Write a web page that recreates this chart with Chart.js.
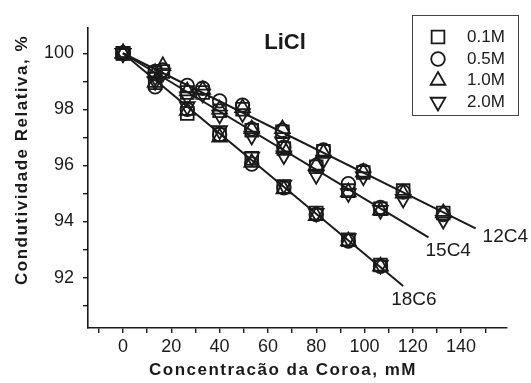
<!DOCTYPE html>
<html>
<head>
<meta charset="utf-8">
<script src="https://cdn.jsdelivr.net/npm/chart.js@4.4.1/dist/chart.umd.min.js"></script>
<style>
  html, body { margin: 0; padding: 0; background: #fff; }
</style>
</head>
<body>
<canvas id="chart" width="531" height="383"></canvas>
<script>
/* LiCl: relative conductivity vs crown ether concentration */
const saltLabels = ['0.1M', '0.5M', '1.0M', '2.0M'];
const crownNames = ['12C4', '15C4', '18C6'];

// crown concentration (mM) sampled for each ether
const x12C4 = [0, 16.5, 33, 49.5, 66, 83, 99.5, 116, 132.6];
const x15C4 = [0, 13.3, 26.6, 40, 53.3, 66.6, 80, 93.3, 106.6];
const x18C6 = [0, 13.3, 26.6, 40, 53.3, 66.6, 80, 93.3, 106.6];

// relative conductivity (%), one row per salt concentration
const y12C4 = [
  [100, 99.35, 98.6, 98.0, 97.2, 96.5, 95.75, 95.1, 94.3],
  [100, 99.4, 98.75, 98.15, 97.25, 96.55, 95.8, 95.05, 94.25],
  [100, 99.55, 98.7, 98.05, 97.3, 96.45, 95.75, 95.0, 94.3],
  [100, 99.3, 98.55, 97.85, 96.85, 96.2, 95.6, 94.8, 94.05]
];
const y15C4 = [
  [100, 99.3, 98.6, 97.95, 97.25, 96.6, 95.95, 95.1, 94.45],
  [100, 99.35, 98.85, 98.3, 97.3, 96.65, 96.0, 95.35, 94.5],
  [100, 99.3, 98.65, 98.0, 97.3, 96.6, 96.0, 95.05, 94.4],
  [100, 99.15, 98.45, 97.8, 97.05, 96.35, 95.65, 95.0, 94.4]
];
const y18C6 = [
  [100, 98.95, 97.85, 97.1, 96.25, 95.25, 94.3, 93.35, 92.45],
  [100, 98.8, 98.0, 97.1, 96.05, 95.2, 94.25, 93.3, 92.4],
  [100, 98.95, 97.95, 97.0, 96.1, 95.15, 94.2, 93.3, 92.4],
  [100, 99.0, 98.1, 97.25, 96.3, 95.3, 94.3, 93.4, 92.45]
];

// linear fits (end points)
const fitX = [[0, 146], [0, 126.5], [0, 116]];
const fitY = [[100, 93.75], [100, 93.43], [100, 91.7]];

// axis ticks
const xTicks = [-10, 0, 10, 20, 30, 40, 50, 60, 70, 80, 90, 100, 110, 120, 130, 140, 150];
const xTickLabels = [0, 20, 40, 60, 80, 100, 120, 140];
const yTicks = [91, 92, 93, 94, 95, 96, 97, 98, 99, 100];
const yTickLabels = [92, 94, 96, 98, 100];

const ink = '#1a1a1a';
const FONT = '"Liberation Sans", Arial, sans-serif';
const markers = [
  { style: 'rect', rot: 0, r: 9 },
  { style: 'circle', rot: 0, r: 6.8 },
  { style: 'triangle', rot: 0, r: 8.5 },
  { style: 'triangle', rot: 180, r: 8.5 }
];

const datasets = [];
[x12C4, x15C4, x18C6].forEach((xs, c) => {
  const rows = [y12C4, y15C4, y18C6][c];
  rows.forEach((ys, s) => {
    datasets.push({
      label: crownNames[c] + ' ' + saltLabels[s],
      data: xs.map((v, i) => ({ x: v, y: ys[i] })),
      showLine: false,
      pointStyle: markers[s].style,
      rotation: markers[s].rot,
      pointRadius: markers[s].r,
      pointBorderWidth: 1.8,
      borderColor: ink,
      backgroundColor: 'rgba(0,0,0,0)'
    });
  });
});
fitX.forEach((xs, i) => {
  datasets.push({
    label: crownNames[i],
    data: xs.map((v, k) => ({ x: v, y: fitY[i][k] })),
    showLine: true,
    borderColor: ink,
    borderWidth: 2,
    pointRadius: 0
  });
});

function drawMarker(ctx, m, cx, cy) {
  ctx.beginPath();
  if (m.style === 'rect') {
    const s = m.r * Math.SQRT1_2;
    ctx.rect(cx - s, cy - s, 2 * s, 2 * s);
  } else if (m.style === 'circle') {
    ctx.arc(cx, cy, m.r, 0, Math.PI * 2);
  } else {
    for (let k = 0; k < 3; k++) {
      const a = m.rot * Math.PI / 180 + k * 2 * Math.PI / 3;
      const px = cx + Math.sin(a) * m.r, py = cy - Math.cos(a) * m.r;
      if (k) ctx.lineTo(px, py); else ctx.moveTo(px, py);
    }
    ctx.closePath();
  }
  ctx.stroke();
}

const extras = {
  id: 'extras',
  afterDraw(chart) {
    const { ctx, scales: { x, y } } = chart;
    ctx.save();
    ctx.fillStyle = ink;
    ctx.strokeStyle = ink;

    ctx.font = 'bold 22px ' + FONT;
    ctx.textAlign = 'center';
    ctx.textBaseline = 'middle';
    ctx.fillText('LiCl', 285, 43);

    // fit labels next to the end of each line
    const offs = [[7, 8], [-3, 13], [-12, 14]];
    ctx.font = '19px ' + FONT;
    ctx.textAlign = 'left';
    crownNames.forEach((name, i) => {
      const n = fitX[i].length - 1;
      const px = x.getPixelForValue(fitX[i][n]);
      const py = y.getPixelForValue(fitY[i][n]);
      ctx.fillText(name, px + offs[i][0], py + offs[i][1]);
    });

    // axis titles
    ctx.font = 'bold 17px ' + FONT;
    ctx.letterSpacing = '1.5px';
    ctx.textAlign = 'center';
    ctx.fillText('Concentracão da Coroa, mM', 283, 370);
    ctx.save();
    ctx.translate(22, 160);
    ctx.rotate(-Math.PI / 2);
    ctx.fillText('Condutividade Relativa, %', 0, 0);
    ctx.restore();
    ctx.letterSpacing = '0px';

    // legend
    ctx.lineWidth = 1;
    ctx.strokeStyle = '#444';
    ctx.strokeRect(412.5, 15.5, 106, 100);
    ctx.strokeStyle = ink;
    ctx.lineWidth = 1.8;
    ctx.font = '17px ' + FONT;
    ctx.textAlign = 'left';
    const rows = [37, 59, 80.5, 102];
    saltLabels.forEach((lab, s) => {
      drawMarker(ctx, markers[s], 438, rows[s]);
      ctx.fillText(lab, 467, rows[s]);
    });
    ctx.restore();
  }
};

new Chart(document.getElementById('chart'), {
  type: 'scatter',
  data: { datasets },
  plugins: [extras],
  options: {
    responsive: false,
    animation: false,
    devicePixelRatio: 1,
    layout: { padding: { left: 0, right: 24, top: 28, bottom: 0 } },
    plugins: { legend: { display: false }, tooltip: { enabled: false } },
    scales: {
      x: {
        type: 'linear', min: -14.5, max: 159,
        afterBuildTicks: s => { s.ticks = xTicks.map(v => ({ value: v })); },
        afterFit: s => { s.height = 55; },
        border: { display: true, color: ink, width: 1.6 },
        grid: { drawOnChartArea: false, drawTicks: true, tickLength: 5, color: ink, lineWidth: 1.4 },
        ticks: {
          autoSkip: false, maxRotation: 0, padding: 3, color: ink,
          font: { family: FONT, size: 18 },
          callback: v => xTickLabels.includes(v) ? String(v) : ''
        }
      },
      y: {
        type: 'linear', min: 90.2, max: 100.9,
        afterBuildTicks: s => { s.ticks = yTicks.map(v => ({ value: v })); },
        afterFit: s => { s.width = 88; },
        border: { display: true, color: ink, width: 1.6 },
        grid: { drawOnChartArea: false, drawTicks: true, tickLength: 5, color: ink, lineWidth: 1.4 },
        ticks: {
          autoSkip: false, padding: 9, color: ink,
          font: { family: FONT, size: 18 },
          callback: v => yTickLabels.includes(v) ? String(v) : ''
        }
      }
    }
  }
});
</script>
</body>
</html>
